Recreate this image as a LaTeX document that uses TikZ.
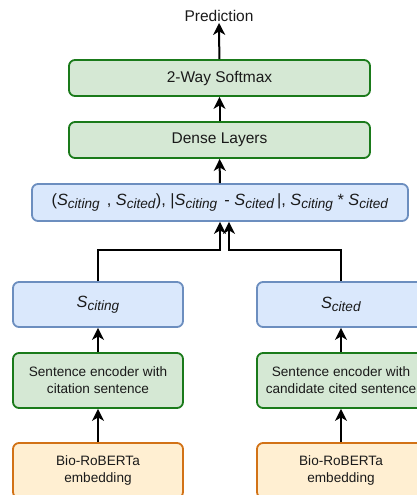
\documentclass[tikz,border=0pt]{standalone}
\usepackage{fontspec}
\setmainfont{Liberation Sans}
\usepackage{xcolor}
\usetikzlibrary{arrows.meta}
\definecolor{greenfill}{HTML}{D5E8D4}
\definecolor{greenline}{HTML}{1A7A1A}
\definecolor{bluefill}{HTML}{DAE8FC}
\definecolor{blueline}{HTML}{6C8EBF}
\definecolor{orangefill}{HTML}{FFEFD2}
\definecolor{orangeline}{HTML}{D27216}
\definecolor{textgray}{HTML}{1A1A1A}
\newcommand{\Svec}[1]{\textit{S}\raisebox{-3.2pt}{\fontsize{13.6}{14}\selectfont\textit{#1}}}
\tikzset{
  box/.style={draw, rounded corners=6pt, line width=1.8pt, align=center, inner sep=0pt, text=textgray},
  greenbox/.style={box, fill=greenfill, draw=greenline},
  bluebox/.style={box, fill=bluefill, draw=blueline},
  orangebox/.style={box, fill=orangefill, draw=orangeline},
  big/.style={font=\fontsize{15.5}{18}\selectfont},
  small/.style={font=\fontsize{13.6}{17}\selectfont},
  arr/.style={-{Stealth[length=12pt,width=12pt,inset=3.5pt]}, line width=2pt},
  every edge/.style={draw}
}

\begin{document}
\begin{tikzpicture}[x=1pt, y=-1pt]
  \useasboundingbox (0,0) rectangle (417,495);

  \node[big, inner sep=1pt, text=textgray]                      at (219, 16)    (pred) {Prediction};
  \node[greenbox, big, minimum width=301, minimum height=36]   at (219.5, 78)  (softmax) {2-Way Softmax};
  \node[greenbox, big, minimum width=301, minimum height=36]   at (219.5, 140) (dense) {Dense Layers};
  \node[bluebox, font=\fontsize{16.3}{18}\selectfont, minimum width=376, minimum height=37] at (220, 202.5) (concat)
    {(\Svec{citing}\, , \Svec{cited}), |\Svec{citing}\, - \Svec{cited}\,|, \Svec{citing} * \Svec{cited}};

  \node[bluebox, font=\fontsize{16.3}{18}\selectfont, minimum width=170, minimum height=45] at (98, 304.5)  (sciting) {\Svec{citing}};
  \node[bluebox, font=\fontsize{16.3}{18}\selectfont, minimum width=168, minimum height=45] at (341, 304.5) (scited) {\Svec{cited}};

  \node[greenbox, small, minimum width=170, minimum height=55] at (98, 380.5)  (encL) {Sentence encoder with\\citation sentence};
  \node[greenbox, small, minimum width=168, minimum height=55] at (341, 380.5) (encR) {Sentence encoder with\\candidate cited sentence};

  \node[orangebox, small, minimum width=170, minimum height=55] at (98, 470.5)  (bertL) {Bio-RoBERTa\\embedding};
  \node[orangebox, small, minimum width=168, minimum height=55] at (341, 470.5) (bertR) {Bio-RoBERTa\\embedding};

  \draw[arr] (bertL) edge (encL);
  \draw[arr] (bertR) edge (encR);
  \draw[arr] (encL) edge (sciting);
  \draw[arr] (encR) edge (scited);

  \draw[arr] (sciting.north) -- ++(0,-31) -| (concat.south);
  \draw[arr] (scited.north) -- ++(0,-31) -| ([xshift=9pt]concat.south);

  \draw[arr] (concat) edge (dense);
  \draw[arr] (dense) edge (softmax);
  \draw[arr] (softmax) edge (pred);
\end{tikzpicture}
\end{document}
